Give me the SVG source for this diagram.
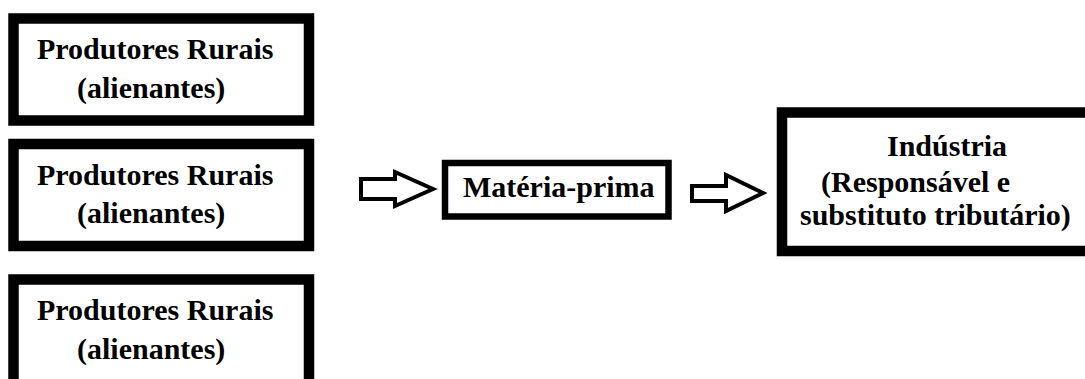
<svg xmlns="http://www.w3.org/2000/svg" width="1085" height="379" viewBox="0 0 1085 379">
<style>
.box{fill:#fff;stroke:#000;stroke-width:10.5}
.sbox{fill:#fff;stroke:#000;stroke-width:6.5}
.t{font-family:"Liberation Serif","Times New Roman",serif;font-weight:bold;font-size:30px;fill:#000}
.arr{fill:#fff;stroke:#000;stroke-width:4;stroke-linejoin:miter}
</style>
<rect width="1085" height="379" fill="#fff"/>
<g id="produtores1">
<rect class="box" x="13.5" y="18.5" width="295.5" height="102"/>
<text class="t" x="37" y="59">Produtores Rurais</text>
<text class="t" x="77" y="98">(alienantes)</text>
</g>
<g id="produtores2">
<rect class="box" x="13.5" y="144" width="295.5" height="102"/>
<text class="t" x="37" y="185">Produtores Rurais</text>
<text class="t" x="77" y="223">(alienantes)</text>
</g>
<g id="produtores3">
<rect class="box" x="13.5" y="279.5" width="295.5" height="108"/>
<text class="t" x="37" y="320">Produtores Rurais</text>
<text class="t" x="77" y="359">(alienantes)</text>
</g>
<g id="materia">
<rect class="sbox" x="445" y="163" width="223.5" height="53.5"/>
<text class="t" x="463" y="197">Matéria-prima</text>
</g>
<g id="industria">
<rect class="box" x="782" y="112.5" width="320" height="138.5"/>
<text class="t" x="887" y="156">Indústria</text>
<text class="t" x="821" y="192">(Responsável e</text>
<text class="t" x="800" y="225">substituto tributário)</text>
</g>
<g id="connectors">
<path class="arr" d="M361 179 H395 V172 L433 189 L395 206 V199 H361 Z"/>
<path class="arr" d="M692 186 H726 V175 L763 193 L726 211 V201 H692 Z"/>
</g>
</svg>
